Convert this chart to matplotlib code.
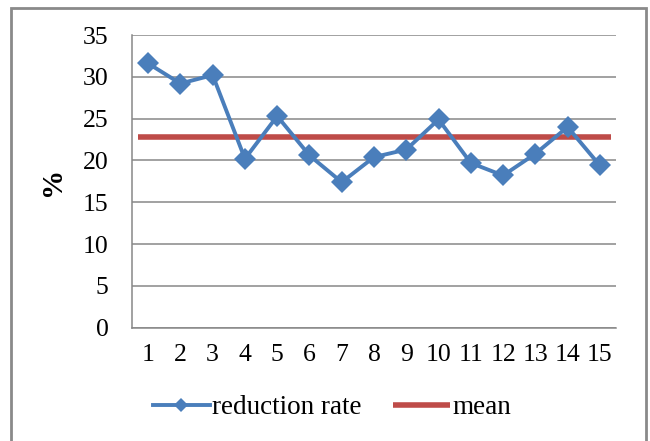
import numpy as np
import matplotlib
matplotlib.use("Agg")
import matplotlib.pyplot as plt
from matplotlib.patches import Rectangle

plt.rcParams['font.family'] = ['Liberation Serif', 'DejaVu Serif']

samples = list(range(1, 16))
reduction_rate = [31.6, 29.2, 30.2, 20.2, 25.3, 20.6, 17.4, 20.4, 21.3, 24.9,
                  19.7, 18.2, 20.8, 24.0, 19.4]
mean_value = [22.8]
y_ticks = [0, 5, 10, 15, 20, 25, 30, 35]

blue = '#4A7EBB'
red = '#BE4B48'
grid_gray = '#878787'

fig = plt.figure(figsize=(6.5, 4.41), dpi=100)
ax = fig.add_axes([132 / 650, 1 - 327.7 / 441, (616 - 132) / 650, (327.7 - 35) / 441])

# outer chart border
fig.patches.append(Rectangle((11 / 650, -0.05), (646 - 11) / 650, 1.05 - 8 / 441,
                             transform=fig.transFigure, fill=False,
                             edgecolor='#8a8a8a', linewidth=2))

ax.plot(samples, reduction_rate, color=blue, lw=2.8, marker='D', markersize=11.5,
        markeredgewidth=0, label='reduction rate', zorder=3)
ax.hlines(mean_value, 0.7, 15.33, color=red, lw=4, label='mean', zorder=2)

ax.set_xlim(0.5, 15.5)
ax.set_ylim(0, 35)
ax.set_yticks(y_ticks)
ax.set_xticks(samples)
ax.grid(axis='y', color=grid_gray, lw=1.1)
ax.set_axisbelow(True)
for s in ['top', 'right']:
    ax.spines[s].set_visible(False)
ax.spines['left'].set_color(grid_gray)
ax.spines['bottom'].set_color(grid_gray)
ax.spines['left'].set_linewidth(1.1)
ax.spines['bottom'].set_linewidth(1.1)
ax.tick_params(axis='y', length=0, pad=17, labelsize=18.5)
ax.tick_params(axis='x', length=0, pad=12, labelsize=18.5)

ax.set_ylabel('%', fontsize=21, fontweight='bold', labelpad=12)

handles, labels = ax.get_legend_handles_labels()
fig.legend(handles, labels, loc='center', bbox_to_anchor=(0.511, 1 - 408 / 441),
           ncol=2, frameon=False, fontsize=19.5, handlelength=2.1, handletextpad=0.1,
           columnspacing=1.15, markerscale=0.6)

fig.savefig('out.png', dpi=100)
